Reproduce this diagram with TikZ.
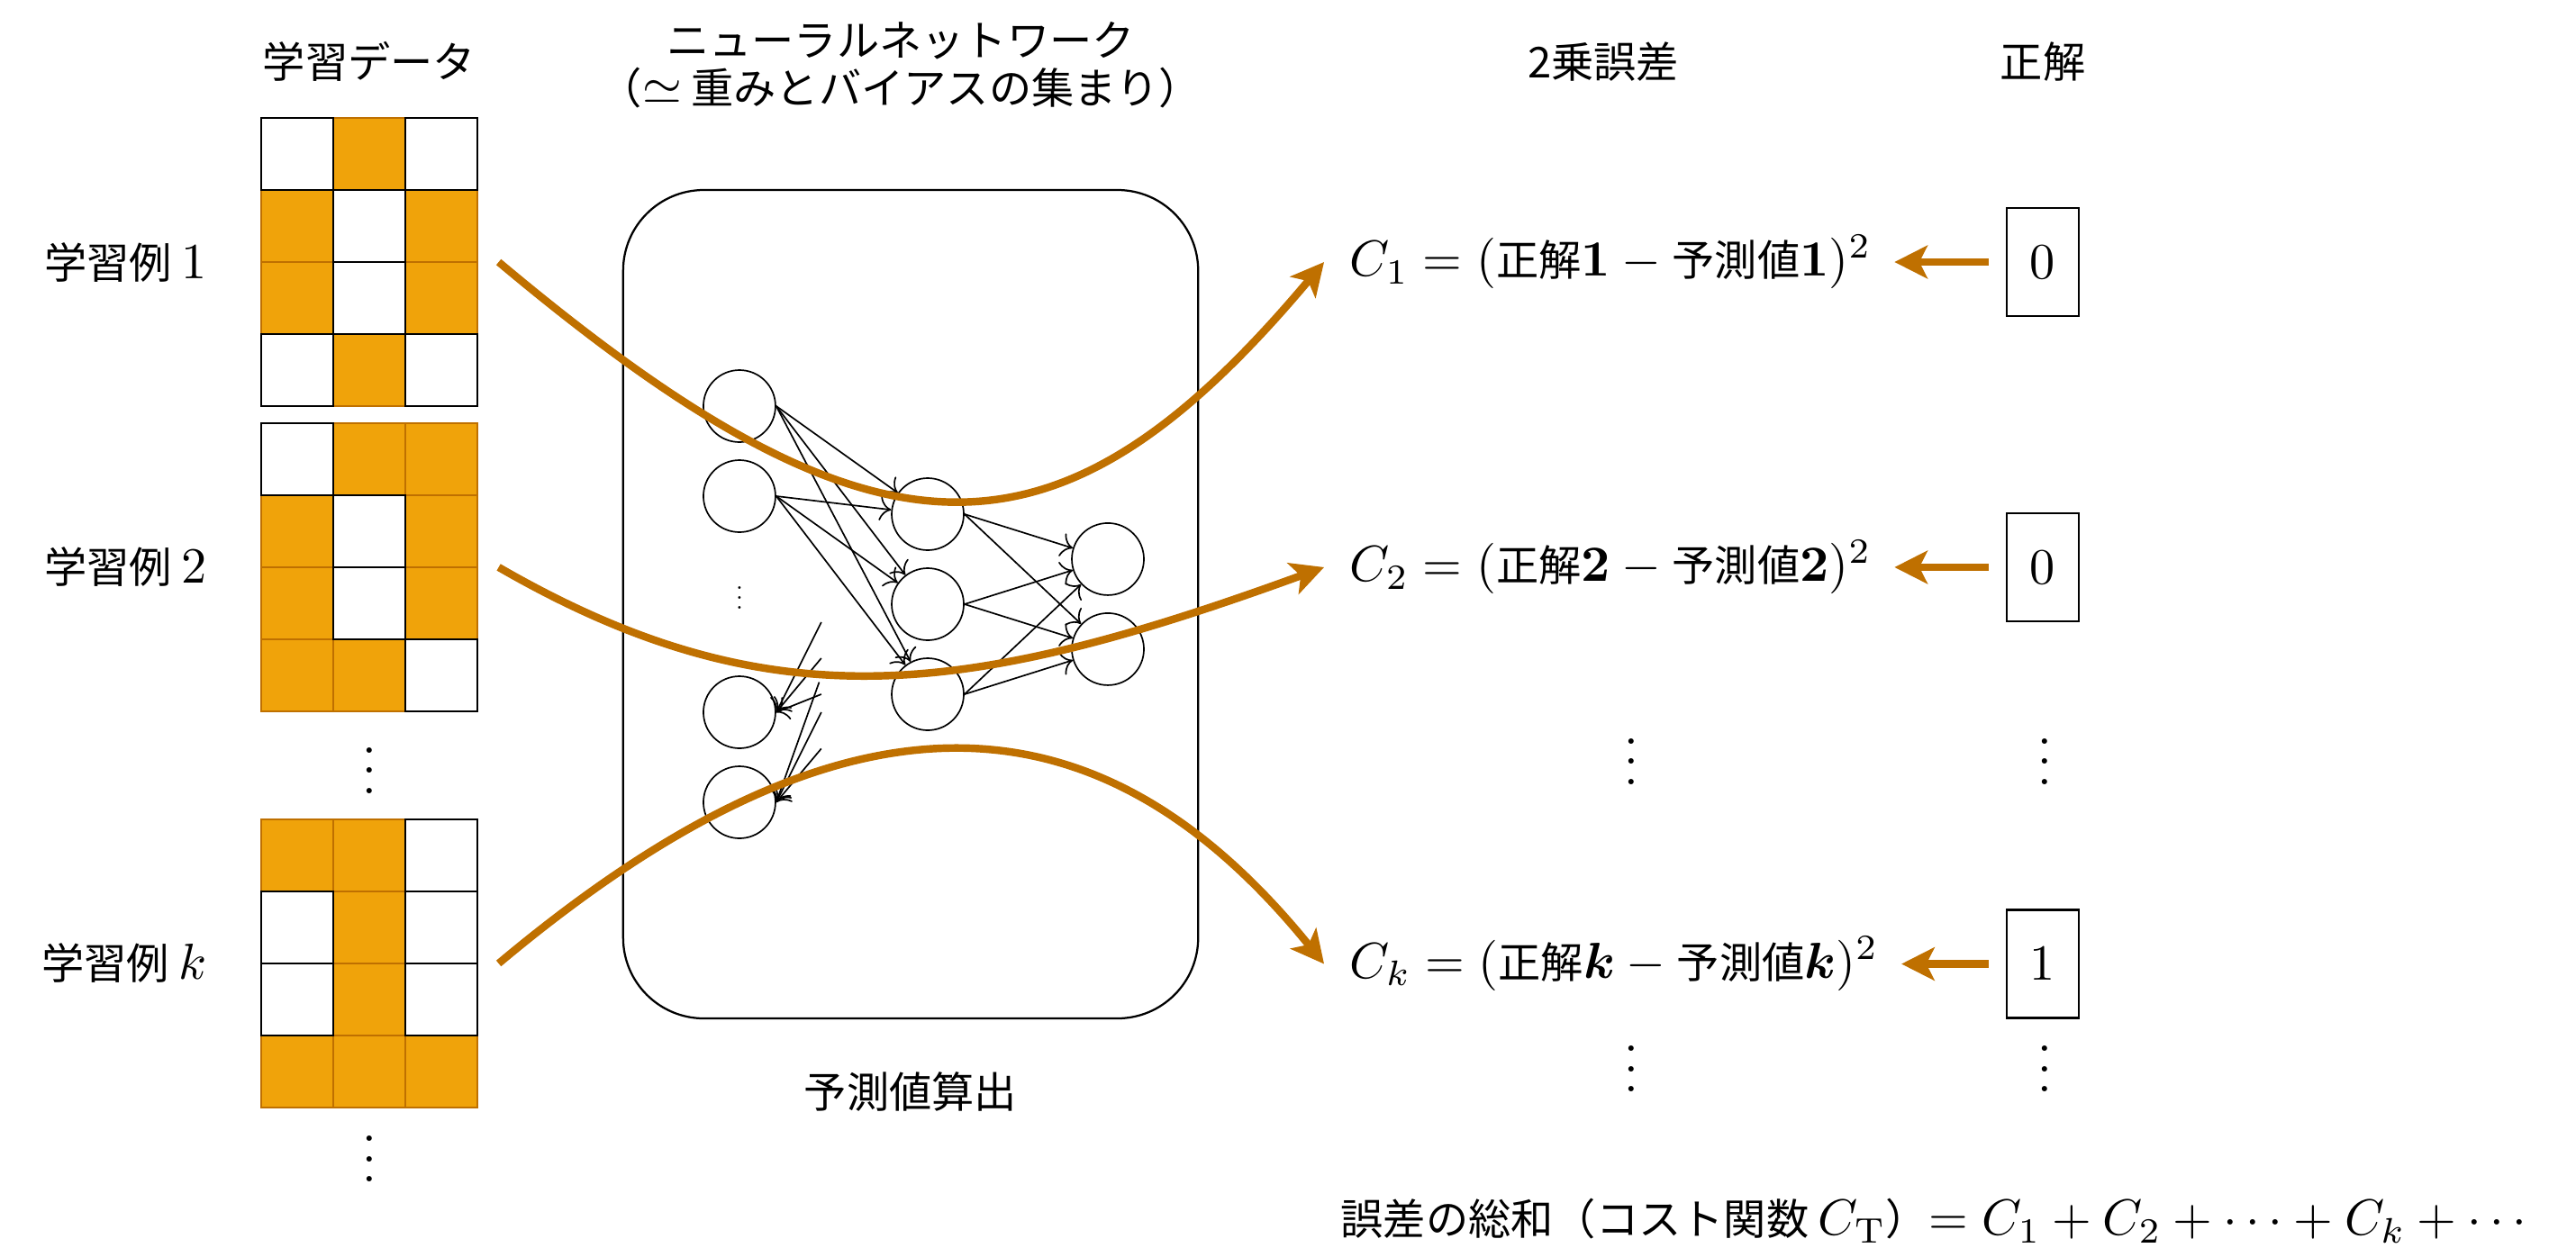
\documentclass[tikz,border=0pt]{standalone}
\usepackage{amsmath}
\usepackage[no-math]{fontspec}
\newfontfamily\jp{Noto Sans CJK JP}[Scale=0.84]
\usetikzlibrary{positioning,arrows.meta}
\definecolor{cellorange}{HTML}{F0A30A}
\definecolor{flowbrown}{HTML}{BF7000}
\begin{document}
\begin{tikzpicture}[
		jtext/.style={font=\jp},
		neuron/.style={draw,circle,minimum size=0.5cm,inner sep=0pt,line width=0.3pt},
		wire/.style={->,line width=0.3pt},
		flow/.style={-{Stealth[length=6.5pt,width=6.5pt,inset=1.6pt]},line width=1.5pt,flowbrown},
		ansbox/.style={draw,minimum width=0.5cm,minimum height=0.75cm,inner sep=0pt},
		vdotsnode/.style={anchor=base,yshift=-4.53pt,inner sep=0pt}]
	\useasboundingbox (0,0) rectangle (17.875,8.725);
	\foreach \g/\gy/\bits in {gA/7.906/{0,1,0,1,0,1,1,0,1,0,1,0},
		gB/5.7875/{0,1,1,1,0,1,1,0,1,1,1,0},
		gK/3.0375/{1,1,0,0,1,0,0,1,0,1,1,1}}{
		\foreach \b [count=\i from 0] in \bits{
			\pgfmathtruncatemacro\cx{mod(\i,3)}
			\pgfmathtruncatemacro\cy{\i/3}
			\ifnum\b=1 \filldraw[fill=cellorange,draw=flowbrown] (1.8125+0.5*\cx,\gy-0.5*\cy) rectangle ++(0.5,-0.5); \fi}
		\foreach \b [count=\i from 0] in \bits{
			\pgfmathtruncatemacro\cx{mod(\i,3)}
			\pgfmathtruncatemacro\cy{\i/3}
			\ifnum\b=0 \draw (1.8125+0.5*\cx,\gy-0.5*\cy) rectangle ++(0.5,-0.5); \fi}
		\node[minimum width=1.5cm,minimum height=2cm,inner sep=0pt] (\g) at (2.5625,\gy-1) {};
	}
	\node[jtext,left=0.245cm of gA] (lA) {学習例 $1$};
	\node[jtext,left=0.245cm of gB] (lB) {学習例 $2$};
	\node[jtext,left=0.245cm of gK] (lK) {学習例 $k$};
	\node[vdotsnode] (dL1) at (2.5625,3.375) {$\vdots$};
	\node[vdotsnode] (dL2) at (2.5625,0.681) {$\vdots$};
	\node[jtext] (tData) at (2.5625,8.3) {学習データ};
	\node[jtext,align=center] (tNet) at (6.25,8.275) {ニューラルネットワーク\\[-2.6pt]（$\simeq$ 重みとバイアスの集まり）};
	\node[jtext] (tErr) at (11.125,8.294) {2乗誤差};
	\node[jtext] (tAns) at (14.175,8.294) {正解};
	\node[draw,rounded corners=0.56cm,minimum width=3.99cm,minimum height=5.75cm] (net) at (6.319,4.531) {};
	\node[jtext,below=0.24cm of net] (tPred) {予測値算出};
	\foreach \n/\y in {1/5.906,2/5.281,3/3.781,4/3.156}
		\node[neuron] (a\n) at (5.131,\y) {};
	\foreach \n/\y in {1/5.156,2/4.531,3/3.906}
		\node[neuron] (b\n) at (6.4375,\y) {};
	\foreach \n/\y in {1/4.844,2/4.219}
		\node[neuron] (c\n) at (7.6875,\y) {};
	\node[anchor=base,inner sep=0pt] (adots) at (5.131,4.495) {\scalebox{0.5}{$\vdots$}};
	\foreach \i in {1,2}{
		\foreach \j in {1,2,3}
			\draw[wire] (a\i.east) -- (b\j);}
	\foreach \i in {1,2,3}{
		\foreach \j in {1,2}
			\draw[wire] (b\i.east) -- (c\j);}
	\foreach \dy in {0.625,0.375,0.125}
		\draw[wire,<-] (a3.east) -- ++(0.3125,\dy);
	\foreach \dx/\dy in {0.298/0.834,0.3125/0.625,0.3125/0.3725}
		\draw[wire,<-] (a4.east) -- ++(\dx,\dy);
	\node[jtext,anchor=west] (eA) at (9.244,6.906) {$C_1 = (\text{正解}\mathbf{1} - \text{予測値}\mathbf{1})^2$};
	\node[jtext,anchor=west] (eB) at (9.244,4.7875) {$C_2 = (\text{正解}\mathbf{2} - \text{予測値}\mathbf{2})^2$};
	\node[jtext,anchor=west] (eK) at (9.244,2.034) {$C_k = (\text{正解}\boldsymbol{k} - \text{予測値}\boldsymbol{k})^2$};
	\node[ansbox] (ansA) at (14.175,6.906) {$0$};
	\node[ansbox] (ansB) at (14.175,4.7875) {$0$};
	\node[ansbox] (ansK) at (14.175,2.034) {$1$};
	\foreach \s in {A,B,K}
		\draw[flow,shorten <=3.4pt,shorten >=1pt] (ans\s.west) -- (e\s.east);
	\node[vdotsnode] (dE1) at (11.32,3.4375) {$\vdots$};
	\node[vdotsnode] (dA1) at (14.19,3.4375) {$\vdots$};
	\node[vdotsnode] (dE2) at (11.32,1.306) {$\vdots$};
	\node[vdotsnode] (dA2) at (14.19,1.306) {$\vdots$};
	\node[jtext,anchor=base west] (sum) at (9.18,0.15) {誤差の総和（コスト関数 $C_{\mathrm{T}}$）$= C_1 + C_2 + \cdots + C_k + \cdots$};
	\draw[flow] ([xshift=4pt]gA.east) .. controls +(-40:3.43) and +(-130:2.87) .. ([xshift=-1.6pt]eA.west);
	\draw[flow] ([xshift=4pt]gB.east) .. controls +(-30:2.19) and +(-160:2.625) .. ([xshift=-1.6pt]eB.west);
	\draw[flow] ([xshift=4pt]gK.east) .. controls +(40:3.075) and +(129:2.54) .. ([xshift=-1.6pt]eK.west);
\end{tikzpicture}
\end{document}
